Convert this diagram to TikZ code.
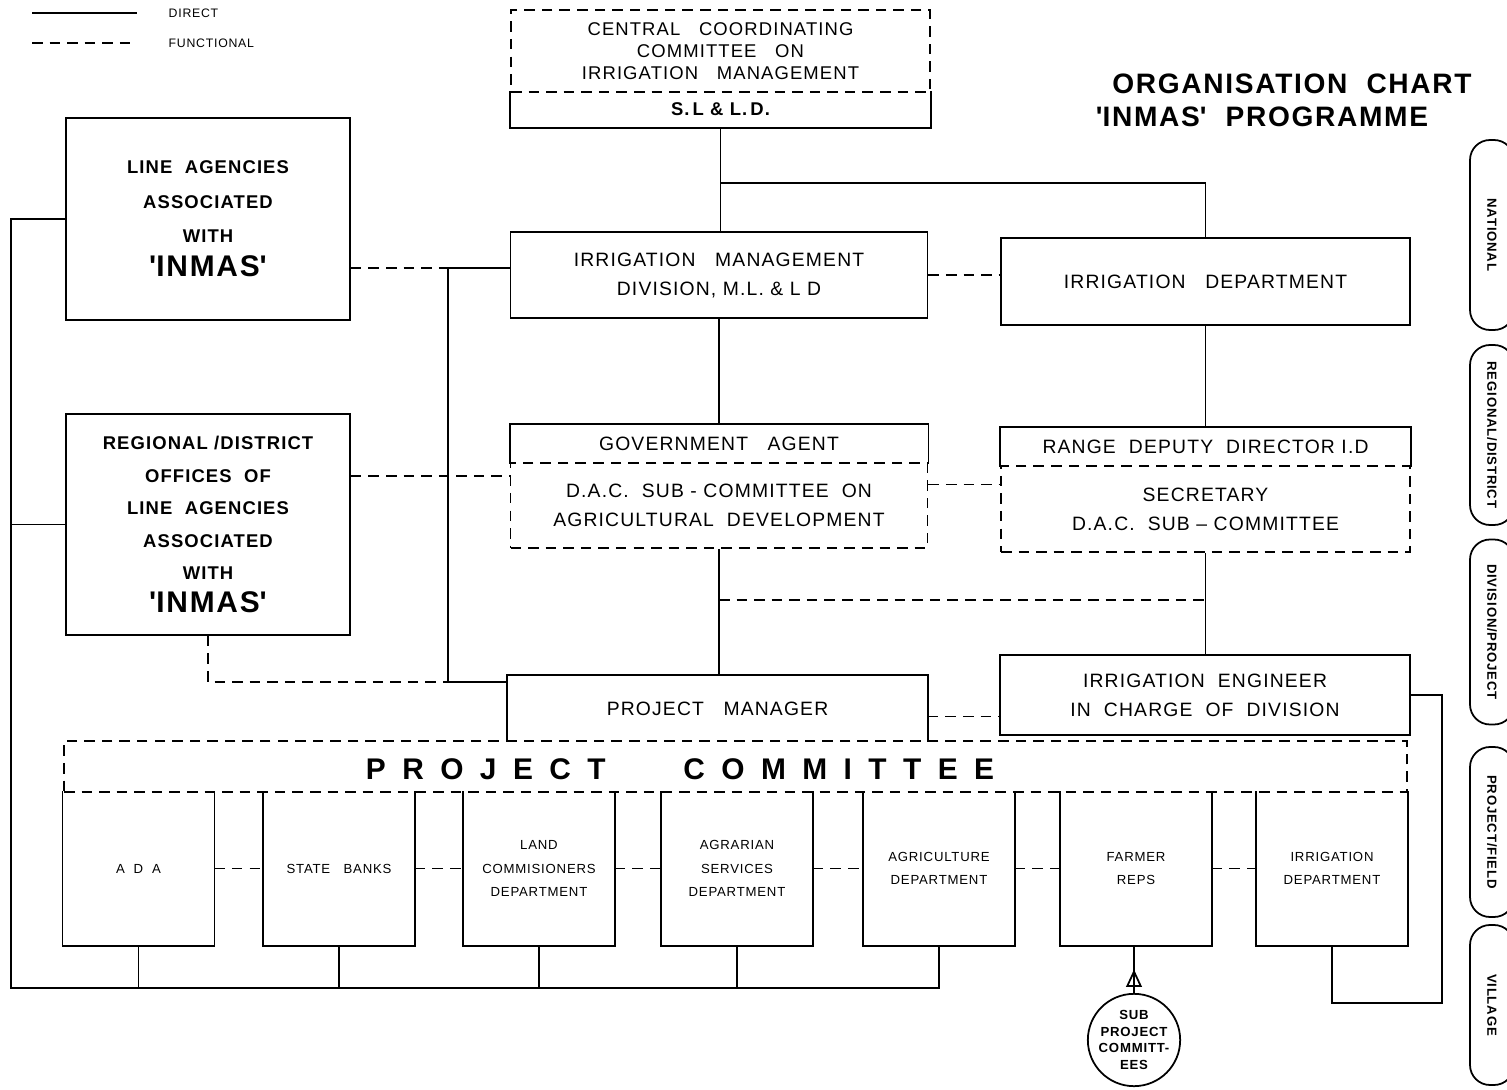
\documentclass[tikz,border=0pt]{standalone}
\usepackage{fontspec}
\setmainfont{Liberation Sans}[LetterSpace=6]
\usetikzlibrary{arrows.meta,calc,decorations.markings}
\newcommand{\apos}{\textquotesingle}

\begin{document}
\begin{tikzpicture}[x=0.2mm,y=-0.2mm,line width=1pt,>=Stealth]
  \tikzset{orgbox/.style={draw,align=center,inner sep=2pt,font=\fontsize{11}{16.5}\selectfont},
    bare/.style={orgbox,draw=none},
    fn/.style={dash pattern=on 6pt off 4pt},
    agency/.style={draw,align=center,minimum width=56.8mm,font=\fontsize{10.5}{19.5}\selectfont\bfseries},
    dept/.style={bare,minimum width=30mm,minimum height=30.6mm,font=\fontsize{7.5}{13.5}\selectfont},
    tier/.style={draw,rotate=-90,rounded corners=4mm,minimum width=#1,minimum height=8.8mm,inner sep=1pt,font=\fontsize{7.5}{9}\selectfont\bfseries},
    upmark/.style={postaction=decorate,decoration={markings,mark=at position #1 with {\arrow{Triangle[open,length=10pt,width=9pt]}}}}}
  \useasboundingbox (0,0) rectangle (1507,1090);

  % legend and title
  \node[anchor=west,font=\fontsize{7}{8}\selectfont] (ldirect) at (162,13) {DIRECT};
  \node[anchor=west,font=\fontsize{7}{8}\selectfont] (lfunc) at (162,43) {FUNCTIONAL};
  \draw[line width=0.8pt] (32,13) -- (137,13);
  \draw[fn,line width=0.8pt] (32,43) -- (137,43);
  \node[font=\fontsize{16}{18}\selectfont\bfseries] (title) at (1292,84) {ORGANISATION\ \ CHART};
  \node[font=\fontsize{16}{18}\selectfont\bfseries] (subtitle) at (1262,117) {\apos INMAS\apos\ \ PROGRAMME};

  % national
  \node[orgbox,fn,minimum width=83.8mm,minimum height=16.4mm,font=\fontsize{10.5}{12.5}\selectfont] (ccc) at (720.5,51) {CENTRAL\ \ \ COORDINATING\\COMMITTEE\ \ \ ON\\IRRIGATION\ \ \ MANAGEMENT};
  \node[bare,minimum width=83.8mm,minimum height=7mm,font=\fontsize{10.5}{12}\selectfont\bfseries] (slld) at (720.5,109.5) {S.\,L \& L.\,D.};
  \draw (slld.north west) -- (slld.south west) -- (slld.south east) -- (slld.north east);
  \node[orgbox,minimum width=83.4mm,minimum height=17.2mm] (imd) at (719,275) {IRRIGATION\ \ \ MANAGEMENT\\DIVISION, M.L. \& L D};
  \node[orgbox,minimum width=81.8mm,minimum height=17.4mm] (idn) at (1205.5,281.5) {IRRIGATION\ \ \ DEPARTMENT};
  \node[agency,minimum height=40.4mm] (la) at (208,219) {LINE\ \ AGENCIES\\ASSOCIATED\\WITH\\{\fontsize{17}{21}\selectfont\apos INMAS\apos}};

  % regional / district
  \node[agency,minimum height=44.2mm,font=\fontsize{10.5}{18.5}\selectfont\bfseries] (rdo) at (208,524.5) {REGIONAL /DISTRICT\\OFFICES\ \ OF\\LINE\ \ AGENCIES\\ASSOCIATED\\WITH\\{\fontsize{17}{19}\selectfont\apos INMAS\apos}};
  \node[bare,minimum width=83.4mm,minimum height=7.6mm] (ga) at (719,444) {GOVERNMENT\ \ \ AGENT};
  \draw (ga.south west) -- (ga.north west) -- (ga.north east) -- (ga.south east);
  \node[orgbox,fn,minimum width=83.4mm,minimum height=17mm] (dac) at (719,505.5) {D.A.C.\ \ SUB - COMMITTEE\ \ ON\\AGRICULTURAL\ \ DEVELOPMENT};
  \node[bare,minimum width=81.8mm,minimum height=7.6mm] (rdd) at (1205.5,447) {RANGE\ \ DEPUTY\ \ DIRECTOR\ I.D};
  \draw (rdd.south west) -- (rdd.north west) -- (rdd.north east) -- (rdd.south east);
  \node[orgbox,fn,minimum width=81.8mm,minimum height=17.2mm] (sec) at (1205.5,509) {SECRETARY\\D.A.C.\ \ SUB -- COMMITTEE};

  % division / project
  \node[bare,minimum width=83.8mm,minimum height=13mm] (pm) at (717.5,708.5) {PROJECT\ \ \ MANAGER};
  \draw (pm.south west) -- (pm.north west) -- (pm.north east) -- (pm.south east);
  \node[orgbox,minimum width=82mm,minimum height=16mm] (ie) at (1205,695) {IRRIGATION\ \ ENGINEER\\IN\ \ CHARGE\ \ OF\ \ DIVISION};

  % project committee
  \node[orgbox,fn,minimum width=268.6mm,minimum height=10.2mm] (pc) at (735.5,766.5) {};
  \node[font=\fontsize{17}{20}\selectfont\bfseries\addfontfeatures{LetterSpace=55}] (pctitle) at (680,769) {PROJECT\hspace{2.6em}COMMITTEE};
  \foreach \n/\x/\t in {ada/138.5/{A\ \ D\ \ A},sb/339/{STATE\ \ \ BANKS},lc/539/{LAND\\COMMISIONERS\\DEPARTMENT},as/737/{AGRARIAN\\SERVICES\\DEPARTMENT},ag/939/{AGRICULTURE\\DEPARTMENT},fr/1136/{FARMER\\REPS},idp/1332/{IRRIGATION\\DEPARTMENT}}{
    \node[dept] (\n) at (\x,868.5) {\t};
    \draw (\n.north west) -- (\n.south west) -- (\n.south east) -- (\n.north east);
  }
  \node[draw,circle,minimum size=18.4mm,inner sep=0pt,align=center,font=\fontsize{7.5}{9.5}\selectfont\bfseries] (spc) at (1134,1040) {SUB\\PROJECT\\COMMITT-\\EES};

  % levels
  \node[tier=38mm] (tnat) at (1492,235) {NATIONAL};
  \node[tier=36mm] (treg) at (1492,435) {REGIONAL/DISTRICT};
  \node[tier=37mm] (tdiv) at (1492,632) {DIVISION/PROJECT};
  \node[tier=34mm] (tpro) at (1492,832) {PROJECT/FIELD};
  \node[tier=32mm] (tvil) at (1492,1005) {VILLAGE};

  % direct links
  \draw (slld.south) -- (slld.south |- imd.north);
  \coordinate (natj) at (720.5,183);
  \draw (natj) -| (idn.north);
  \draw (imd.south) -- (ga.north);
  \draw (idn.south) -- (rdd.north);
  \draw (dac.south) -- (dac.south |- pm.north);
  \draw (sec.south) -- (sec.south |- ie.north);
  \coordinate (busn) at (448,268);
  \coordinate (buss) at (448,682);
  \draw (busn) -- (busn -| imd.west);
  \draw (busn) -- (buss) -- (buss -| pm.west);
  \coordinate (lbus) at (11,988);
  \draw (la.west) -| (lbus) -| (ag.south);
  \draw (rdo.west) -- (rdo.west -| lbus);
  \foreach \n in {ada,sb,lc,as}{\draw (\n.south) -- (\n.south |- lbus);}
  \coordinate (iej) at (1442,1003);
  \draw (ie.east) -| (iej) -| (idp.south);
  \draw[upmark=0.5] (spc.north) -- (spc.north |- fr.south);

  % functional links
  \draw[fn] (busn -| la.east) -- (busn);
  \draw[fn] (imd.east) -- (imd.east -| idn.west);
  \coordinate (regj) at (448,476);
  \draw[fn] (regj -| rdo.east) -- (regj -| dac.west);
  \draw[fn] (rdo.south) |- (buss);
  \coordinate (dj) at ($(dac.east)+(0,-21)$);
  \draw[fn] (dj) -- (dj -| sec.west);
  \coordinate (fj) at (719,600);
  \draw[fn] (fj) -- (fj -| sec.south);
  \coordinate (pj) at ($(pm.east)+(0,8)$);
  \draw[fn] (pj) -- (pj -| ie.west);
  \foreach \a/\b in {ada/sb,sb/lc,lc/as,as/ag,ag/fr,fr/idp}{\draw[fn] (\a) -- (\b);}
\end{tikzpicture}
\end{document}
